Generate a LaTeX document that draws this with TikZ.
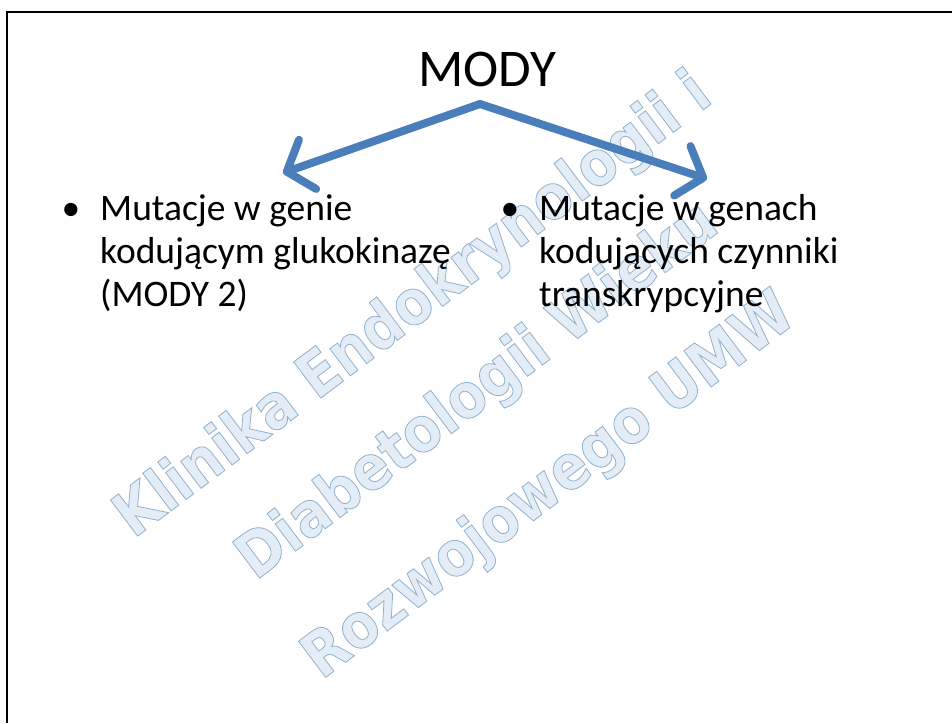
\documentclass[tikz,border=0pt]{standalone}
\usepackage{fontspec}
\setmainfont{Carlito}
\newfontfamily\wmfont{DejaVu Sans Bold}[FakeStretch=0.88]
\usetikzlibrary{arrows.meta}

\definecolor{arrowblue}{RGB}{74,126,187}
\definecolor{wmfill}{RGB}{228,237,246}

% outlined watermark lettering: fill + stroke text rendering
\newcommand\outlineon{\special{pdf:literal direct 2 Tr 0.8 w 0.56 0.70 0.82 RG}}
\newcommand\outlineoff{\special{pdf:literal direct 0 Tr}}

\tikzset{
  heading/.style={anchor=base, inner sep=0pt, font=\fontsize{53}{60}\selectfont},
  itemline/.style={anchor=base west, inner sep=0pt, font=\fontsize{37.5}{43}\selectfont},
  itemdot/.style={anchor=base, inner sep=0pt, font=\fontsize{37.5}{43}\selectfont},
  branch/.style={draw=arrowblue, line width=8pt, line cap=round,
    -{Straight Barb[length=22pt, width=52pt, round]}},
  watermark/.style={inner sep=0pt, align=center, text=wmfill,
    font=\wmfont\fontsize{62}{107}\selectfont},
}

\begin{document}
\begin{tikzpicture}[x=1pt,y=-1pt]
  \useasboundingbox (0,0) rectangle (952,723);
  \fill[white] (0,0) rectangle (952,723);

  % background stamp
  \node[watermark, rotate=37] (stamp) at (482,397)
    {\outlineon Klinika Endokrynologii i\\Diabetologii Wieku\\[12pt]Rozwojowego UMW\outlineoff};

  % slide frame (left and top edges)
  \draw[line width=2.5pt] (7,723) -- (7,12) -- (952,12);

  % heading
  \node[heading] (mody) at (487.5,86) {MODY};

  % left item
  \node[itemdot] (ldot) at (71,220) {•};
  \node[itemline] (l1) at (100,220) {Mutacje w genie};
  \node[itemline] (l2) at (100,263) {kodującym glukokinazę};
  \node[itemline] (l3) at (100,306) {(MODY 2)};

  % right item
  \node[itemdot] (rdot) at (510,220) {•};
  \node[itemline] (r1) at (539,220) {Mutacje w genach};
  \node[itemline] (r2) at (539,263) {kodujących czynniki};
  \node[itemline] (r3) at (539,306) {transkrypcyjne};

  % branching arrows
  \coordinate (fork) at (480,104);
  \coordinate (ltip) at (283,173);
  \coordinate (rtip) at (707,179);
  \draw[branch] (fork) -- (ltip);
  \draw[branch] (fork) -- (rtip);
\end{tikzpicture}
\end{document}
